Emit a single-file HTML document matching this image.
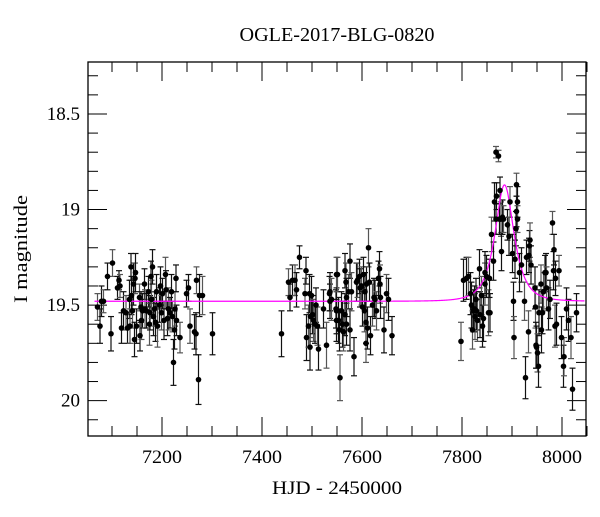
<!DOCTYPE html>
<html><head><meta charset="utf-8"><style>
html,body{margin:0;padding:0;background:#fff;}
svg text{font-family:"Liberation Serif","DejaVu Serif",serif;fill:#000;}
</style></head><body>
<svg id="chart" width="600" height="512" viewBox="0 0 600 512" xmlns="http://www.w3.org/2000/svg">
<text x="337" y="41" font-size="19.5" text-anchor="middle" textLength="195" lengthAdjust="spacingAndGlyphs">OGLE-2017-BLG-0820</text>
<text x="337" y="494" font-size="19" text-anchor="middle" textLength="130" lengthAdjust="spacingAndGlyphs">HJD - 2450000</text>
<text x="0" y="0" font-size="19" text-anchor="middle" textLength="108" lengthAdjust="spacingAndGlyphs" transform="translate(27,249) rotate(-90)">I magnitude</text>
<g id="ticks"></g><g id="errbars"></g><g id="model"></g><g id="points"></g>
<rect x="88" y="62" width="498" height="374" fill="none" stroke="#000" stroke-width="1.3"/>
</svg>
<script>
const times=[7071,7076,7079,7083,7091,7098,7101,7111,7114,7116,7119,7123,7128,7131,7135,7136,7138,7139,7141,7143,7145,7146,7147,7149,7155,7156,7158,7159,7161,7165,7166,7169,7173,7175,7176,7178,7179,7181,7183,7185,7187,7189,7191,7195,7197,7199,7201,7204,7207,7208,7211,7213,7216,7219,7221,7223,7225,7226,7228,7229,7236,7249,7253,7256,7265,7268,7269,7273,7275,7281,7301,
7439,7453,7456,7461,7466,7469,7475,7486,7488,7489,7493,7495,7496,7497,7499,7501,7503,7506,7508,7511,7513,7523,7529,7535,7536,7549,7549,
7536,7539,7548,7549,7551,7553,7555,7556,7559,7561,7563,7566,7566,7568,7569,7569,7573,7576,7576,7579,7584,7589,7591,7595,7596,7599,7601,7603,7605,7606,7608,7608,7609,7611,7613,7615,7617,7621,7624,7626,7629,7633,7635,7636,7637,7644,7649,7653,7660,
7798,7803,7809,7813,7817,7819,7821,7823,7825,7826,7828,7829,7831,7835,7836,7839,7841,7843,7846,7846,7849,7853,7855,7856,7859,7863,7865,7868,7868,7869,7873,7875,7876,7878,7879,7881,7883,7891,7894,7896,7901,7903,7904,7906,7908,7909,7909,7911,7911,7915,7919,7925,7927,7929,7933,7934,7935,7936,7938,7946,7947,7948,7949,7951,7953,7954,7958,7959,7961,7963,7966,7968,7969,7973,7976,7981,7983,7984,7986,7987,7989,7994,7999,8003,8004,8009,8013,8018,8021,8029];
const mags=[19.51,19.61,19.48,19.48,19.35,19.65,19.28,19.41,19.37,19.40,19.62,19.53,19.54,19.62,19.47,19.61,19.30,19.45,19.53,19.39,19.68,19.36,19.33,19.61,19.46,19.66,19.51,19.58,19.53,19.39,19.52,19.53,19.43,19.60,19.54,19.35,19.47,19.30,19.56,19.52,19.59,19.43,19.61,19.50,19.40,19.54,19.44,19.58,19.34,19.42,19.57,19.52,19.54,19.43,19.56,19.80,19.63,19.52,19.36,19.58,19.67,19.44,19.41,19.61,19.64,19.65,19.37,19.89,19.45,19.45,19.65,
19.65,19.38,19.46,19.37,19.37,19.42,19.25,19.44,19.32,19.67,19.61,19.44,19.72,19.56,19.45,19.55,19.58,19.60,19.50,19.61,19.73,19.52,19.71,19.44,19.48,19.34,19.58,
19.43,19.47,19.52,19.53,19.34,19.58,19.63,19.88,19.53,19.60,19.64,19.55,19.32,19.38,19.60,19.46,19.43,19.27,19.63,19.43,19.77,19.38,19.37,19.35,19.41,19.40,19.51,19.34,19.53,19.43,19.59,19.70,19.39,19.62,19.20,19.38,19.66,19.50,19.46,19.47,19.53,19.36,19.31,19.39,19.46,19.63,19.44,19.47,19.66,
19.69,19.37,19.36,19.35,19.44,19.50,19.63,19.53,19.52,19.56,19.47,19.53,19.58,19.31,19.55,19.45,19.61,19.57,19.39,19.33,19.35,19.54,19.36,19.54,19.13,19.27,18.96,18.70,19.05,18.93,18.72,19.05,18.90,19.05,19.22,19.04,19.05,19.08,19.14,18.96,19.23,19.48,19.67,19.26,19.10,18.87,19.01,18.96,19.05,19.33,19.29,19.48,19.88,19.25,19.64,19.24,19.19,19.16,19.29,19.41,19.51,19.71,19.72,19.75,19.82,19.54,19.39,19.63,19.54,19.43,19.33,19.33,19.41,19.52,19.47,19.07,19.32,19.21,19.61,19.36,19.60,19.32,19.67,19.82,19.77,19.52,19.58,19.67,19.94,19.54];
const errs=[0.07,0.09,0.08,0.06,0.07,0.09,0.07,0.06,0.05,0.06,0.08,0.10,0.09,0.08,0.10,0.09,0.07,0.10,0.09,0.11,0.09,0.08,0.10,0.09,0.07,0.08,0.08,0.10,0.09,0.08,0.10,0.09,0.08,0.11,0.09,0.08,0.10,0.09,0.10,0.09,0.10,0.09,0.11,0.09,0.10,0.09,0.08,0.10,0.09,0.10,0.09,0.11,0.08,0.09,0.08,0.12,0.10,0.09,0.07,0.08,0.08,0.07,0.07,0.09,0.09,0.11,0.07,0.13,0.11,0.10,0.11,
0.12,0.07,0.07,0.08,0.08,0.09,0.06,0.08,0.07,0.12,0.11,0.10,0.12,0.11,0.10,0.10,0.11,0.10,0.09,0.10,0.11,0.10,0.12,0.09,0.09,0.09,0.11,
0.10,0.11,0.10,0.12,0.09,0.12,0.11,0.12,0.10,0.12,0.10,0.11,0.09,0.10,0.11,0.10,0.09,0.09,0.11,0.10,0.10,0.10,0.09,0.09,0.10,0.10,0.10,0.09,0.11,0.10,0.11,0.10,0.09,0.11,0.10,0.10,0.10,0.11,0.10,0.10,0.10,0.09,0.09,0.10,0.11,0.12,0.10,0.11,0.10,
0.10,0.11,0.11,0.10,0.11,0.12,0.10,0.11,0.12,0.12,0.11,0.10,0.11,0.10,0.12,0.10,0.11,0.12,0.11,0.11,0.11,0.12,0.10,0.10,0.09,0.10,0.10,0.03,0.08,0.07,0.03,0.08,0.07,0.09,0.10,0.09,0.07,0.08,0.10,0.08,0.10,0.10,0.11,0.10,0.09,0.06,0.08,0.08,0.07,0.10,0.09,0.10,0.11,0.09,0.11,0.09,0.08,0.09,0.10,0.11,0.11,0.12,0.11,0.10,0.11,0.12,0.10,0.12,0.11,0.10,0.09,0.10,0.11,0.11,0.10,0.06,0.10,0.08,0.11,0.09,0.11,0.08,0.11,0.11,0.10,0.11,0.11,0.11,0.11,0.10];
const modelParams=[7885,0.66,28.5,19.48]; // t0, u0, tE, baseline mag
const xTicks=[7200,7400,7600,7800,8000];
const yTicks=[18.5,19,19.5,20];

const NS="http://www.w3.org/2000/svg";
const X0=88,X1=586,Y0=62,Y1=436;
const tMin=7052,tMax=8048,mTop=18.228,mBot=20.185;
function sx(t){return X0+(t-tMin)/(tMax-tMin)*(X1-X0);}
function sy(m){return Y0+(m-mTop)/(mBot-mTop)*(Y1-Y0);}
function mk(tag,attrs,parent){const e=document.createElementNS(NS,tag);for(const k in attrs)e.setAttribute(k,attrs[k]);parent.appendChild(e);return e;}
const tg=document.getElementById('ticks');
for(let t=7100;t<=8050;t+=50){
  const major=t%200===0, L=major?19:10, x=sx(t);
  const a=mk('line',{x1:x,x2:x,y1:Y1,y2:Y1-L,stroke:'#000','stroke-width':1},tg);
  
  
  const b=mk('line',{x1:x,x2:x,y1:Y0,y2:Y0+L,stroke:'#000','stroke-width':1},tg);
  
  
}
xTicks.forEach(t=>{
  const tx=mk('text',{x:sx(t),y:Y1+27,'font-size':19,'text-anchor':'middle',textLength:40,lengthAdjust:'spacingAndGlyphs'},tg);
  tx.textContent=t;
  
  
});
for(let i=3;i<=21;i++){
  const m=18.0+i*0.1; if(m<mTop||m>mBot)continue;
  const major=(i%5===0), L=major?19:10, y=sy(m);
  const a=mk('line',{x1:X0,x2:X0+L,y1:y,y2:y,stroke:'#000','stroke-width':1},tg);
  
  
  const b=mk('line',{x1:X1,x2:X1-L,y1:y,y2:y,stroke:'#000','stroke-width':1},tg);
  
  
}
yTicks.forEach(m=>{
  const tx=mk('text',{x:X0-8,y:sy(m)+6,'font-size':19,'text-anchor':'end'},tg);
  tx.textContent=m;
  
  
});
const eg=document.getElementById('errbars'), pg=document.getElementById('points');
for(let i=0;i<times.length;i++){
  const x=sx(times[i]), y=sy(mags[i]), ya=sy(mags[i]-errs[i]), yb=sy(mags[i]+errs[i]);
  const col=(i%3===0)?'#555':'#111';
  const g=mk('g',{stroke:col,'stroke-width':1.2},eg);
  
  
  mk('line',{x1:x,x2:x,y1:ya,y2:yb},g);
  mk('line',{x1:x-3,x2:x+3,y1:ya,y2:ya},g);
  mk('line',{x1:x-3,x2:x+3,y1:yb,y2:yb},g);
  const c=mk('circle',{cx:x,cy:y,r:2.8,fill:'#000'},pg);
  
  
}
const [t0,u0,tE,base]=modelParams;
let d='';
for(let t=7065;t<=8045;t+=1){
  const tau=(t-t0)/tE, u=Math.sqrt(u0*u0+tau*tau);
  const A=(u*u+2)/(u*Math.sqrt(u*u+4));
  const m=base-2.5*Math.log10(A);
  d+=(d?'L':'M')+sx(t).toFixed(2)+','+sy(m).toFixed(2);
}
const p=mk('path',{d:d,fill:'none',stroke:'#ff00ff','stroke-width':1.2},document.getElementById('model'));


</script>
</body></html>
